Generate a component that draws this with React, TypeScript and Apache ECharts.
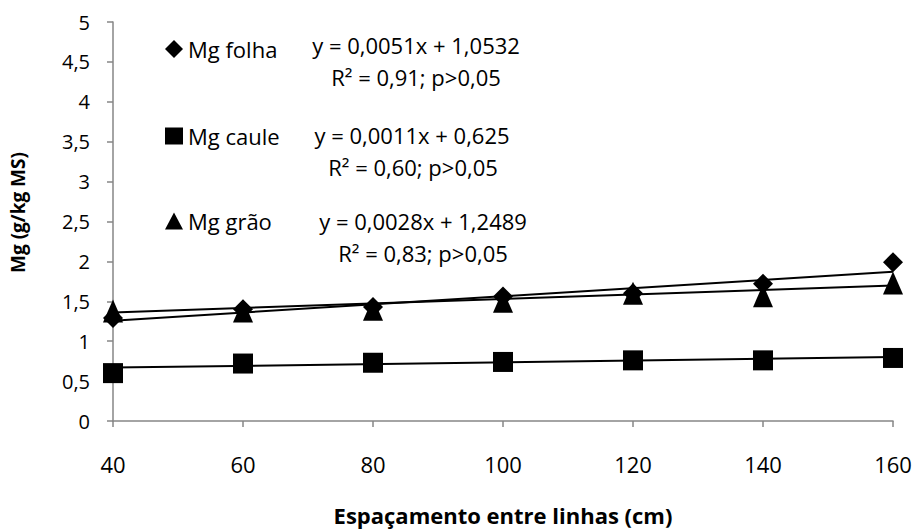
import React, { useEffect, useRef } from "react";
import * as echarts from "echarts";

const xValues = [40, 60, 80, 100, 120, 140, 160];
const folha = [1.29, 1.4, 1.43, 1.56, 1.6, 1.72, 1.99];
const caule = [0.6, 0.72, 0.73, 0.74, 0.76, 0.76, 0.79];
const grao = [1.38, 1.38, 1.4, 1.5, 1.6, 1.57, 1.73];
const trendFolha = [0.0051, 1.0532];
const trendCaule = [0.0011, 0.625];
const trendGrao = [0.0028, 1.2489];
const eqLabels = [
  ["y = 0,0051x + 1,0532", "R² = 0,91; p>0,05"],
  ["y = 0,0011x + 0,625", "R² = 0,60; p>0,05"],
  ["y = 0,0028x + 1,2489", "R² = 0,83; p>0,05"],
];

const FONT = "'Open Sans', 'Noto Sans', sans-serif";

export default function App() {
  const ref = useRef<HTMLDivElement>(null);
  useEffect(() => {
    if (!ref.current) return;
    const chart = echarts.init(ref.current, null, { renderer: "svg" });
    const pts = (ys: number[]) => xValues.map((x, i) => [x, ys[i]]);
    const trend = (c: number[]) => [
      [xValues[0], c[0] * xValues[0] + c[1]],
      [xValues[xValues.length - 1], c[0] * xValues[xValues.length - 1] + c[1]],
    ];
    const eqPos = [
      [416, 45, 416, 77],
      [412, 135, 413, 167],
      [423, 221, 423, 253],
    ];
    const graphics: any[] = [];
    eqLabels.forEach((l, i) => {
      graphics.push({
        type: "text",
        x: eqPos[i][0],
        y: eqPos[i][1],
        style: { text: l[0], font: `22px ${FONT}`, fill: "#000", textAlign: "center", textVerticalAlign: "middle" },
      });
      graphics.push({
        type: "text",
        x: eqPos[i][2],
        y: eqPos[i][3],
        style: { text: l[1], font: `22px ${FONT}`, fill: "#000", textAlign: "center", textVerticalAlign: "middle" },
      });
    });
    const legendBase = {
      orient: "vertical",
      left: 160,
      itemGap: 4,
      textStyle: { fontFamily: FONT, fontSize: 22, lineHeight: 24, color: "#000", padding: [0, 0, 0, 0] },
    };
    chart.setOption({
      animation: false,
      grid: { left: 113, right: 23, top: 22, bottom: 106 },
      legend: [
        { ...legendBase, top: 32, itemWidth: 18, itemHeight: 18, data: [{ name: "Mg folha", icon: "diamond" }] },
        { ...legendBase, top: 119, itemWidth: 18, itemHeight: 17, data: [{ name: "Mg caule", icon: "rect" }] },
        { ...legendBase, top: 204, itemWidth: 18, itemHeight: 17, data: [{ name: "Mg grão", icon: "triangle" }] },
      ],
      xAxis: {
        type: "value",
        min: 40,
        max: 160,
        interval: 20,
        axisLine: { lineStyle: { color: "#868686", width: 1.5 } },
        axisTick: { show: true, length: 6, lineStyle: { color: "#868686", width: 1.5 } },
        axisLabel: { color: "#000", fontFamily: FONT, fontSize: 22, margin: 32 },
        splitLine: { show: false },
        name: "Espaçamento entre linhas (cm)",
        nameLocation: "middle",
        nameGap: 83,
        nameTextStyle: { color: "#000", fontFamily: FONT, fontSize: 22, fontWeight: "bold" },
      },
      yAxis: {
        type: "value",
        min: 0,
        max: 5,
        interval: 0.5,
        axisLine: { show: true, lineStyle: { color: "#868686", width: 1.5 } },
        axisTick: { show: true, length: 6, lineStyle: { color: "#868686", width: 1.5 } },
        axisLabel: {
          color: "#000",
          fontFamily: FONT,
          fontSize: 20,
          margin: 23,
          formatter: (v: number) => String(v).replace(".", ","),
        },
        splitLine: { show: false },
        name: "Mg (g/kg MS)",
        nameLocation: "middle",
        nameGap: 86,
        nameTextStyle: { color: "#000", fontFamily: FONT, fontSize: 19, fontWeight: "bold", padding: [0, 0, 0, 18] },
      },
      series: [
        { name: "Mg folha trend", type: "line", data: trend(trendFolha), symbol: "none", lineStyle: { color: "#000", width: 2 }, z: 3 },
        { name: "Mg caule trend", type: "line", data: trend(trendCaule), symbol: "none", lineStyle: { color: "#000", width: 2 }, z: 3 },
        { name: "Mg grão trend", type: "line", data: trend(trendGrao), symbol: "none", lineStyle: { color: "#000", width: 2 }, z: 3 },
        { name: "Mg folha", type: "scatter", data: pts(folha), symbol: "diamond", symbolSize: 20, itemStyle: { color: "#000", opacity: 1 }, z: 4 },
        { name: "Mg caule", type: "scatter", data: pts(caule), symbol: "rect", symbolSize: 20, itemStyle: { color: "#000", opacity: 1 }, z: 4 },
        { name: "Mg grão", type: "scatter", data: pts(grao), symbol: "triangle", symbolSize: [20, 23], itemStyle: { color: "#000", opacity: 1 }, z: 4 },
      ],
      graphic: graphics,
    });
    return () => chart.dispose();
  }, []);
  return <div ref={ref} style={{ position: "fixed", left: 0, top: 0, width: 916, height: 531, background: "#fff" }} />;
}
